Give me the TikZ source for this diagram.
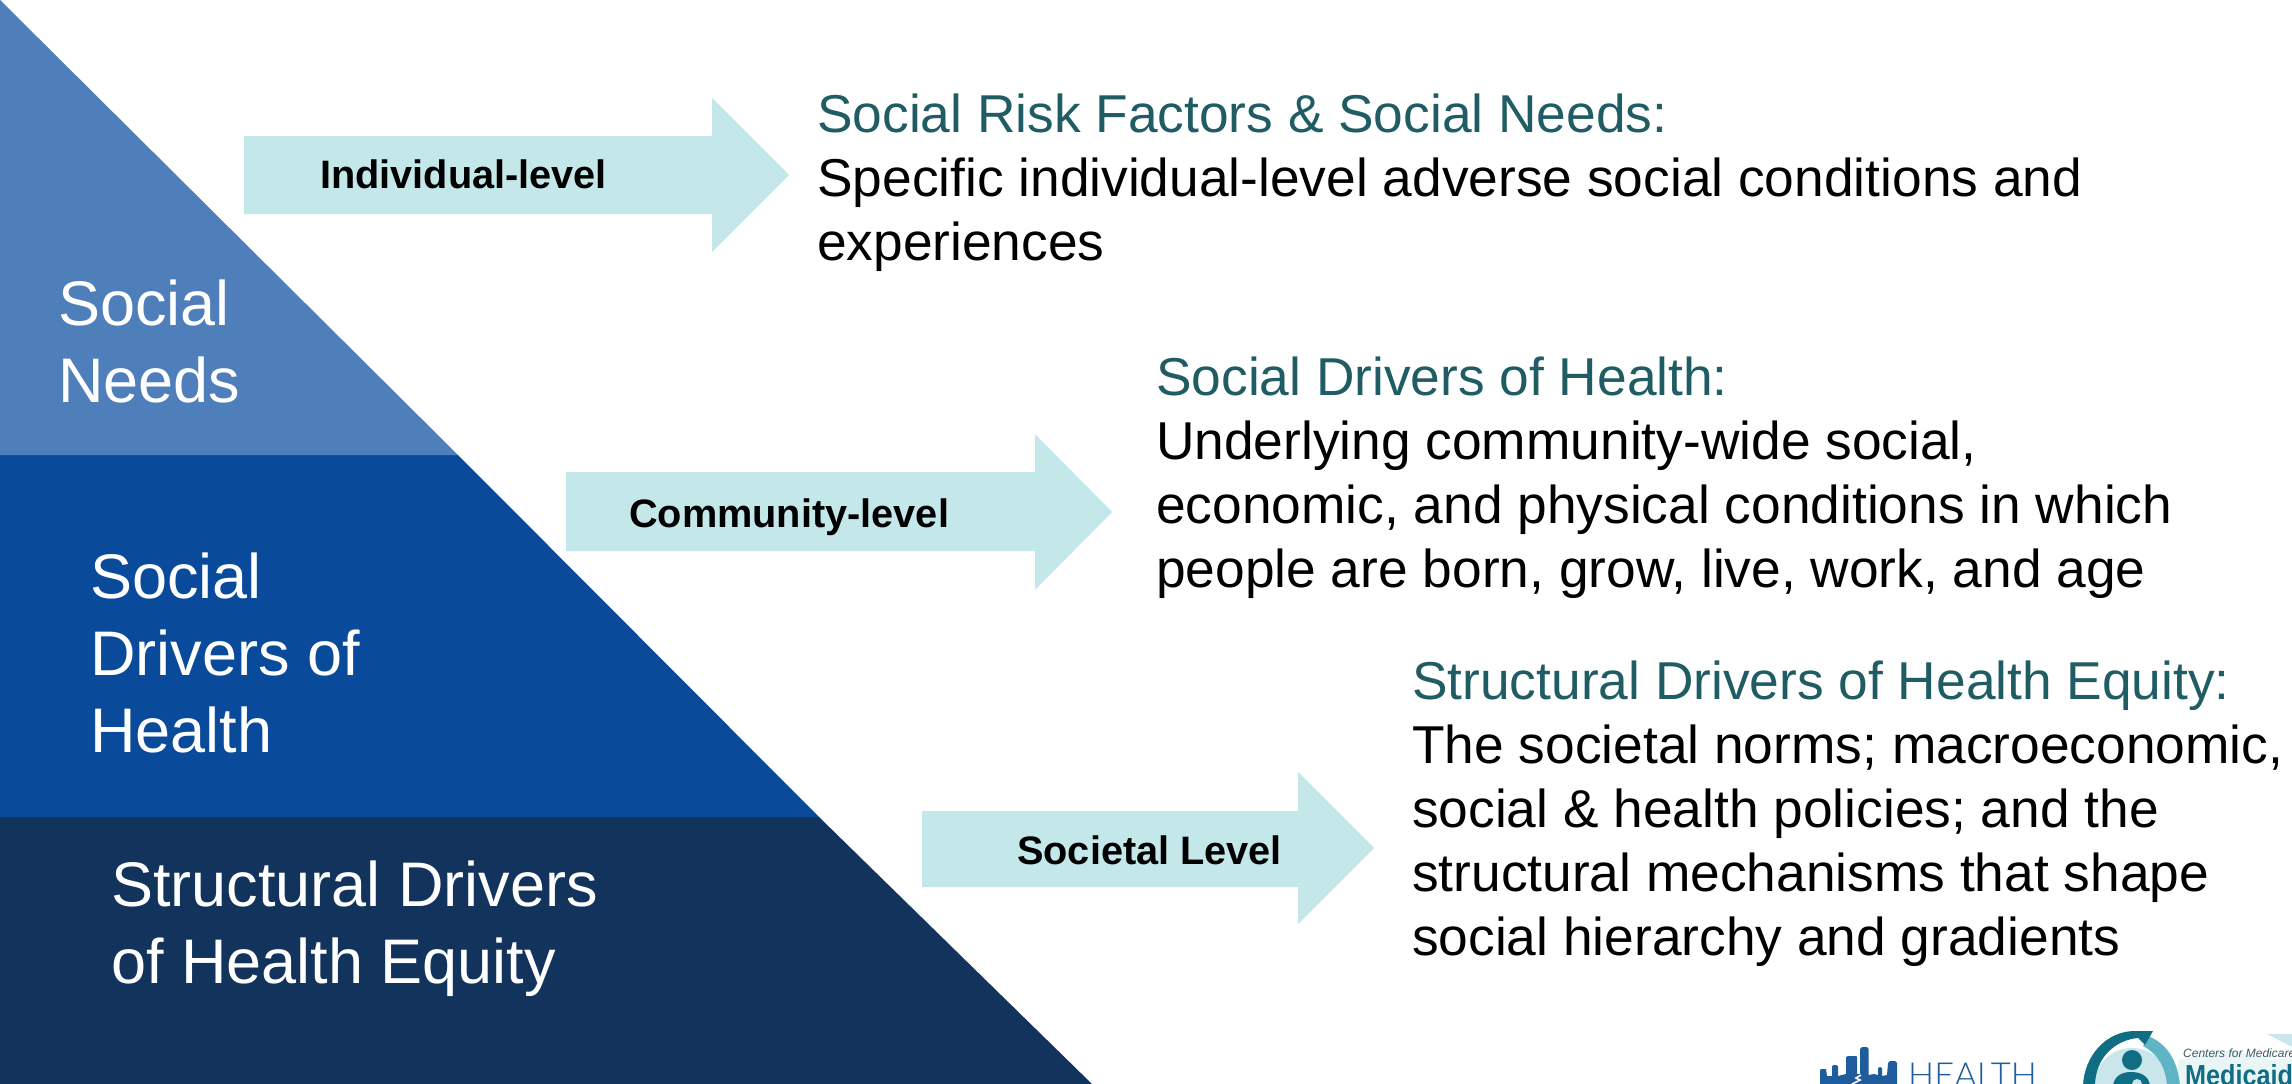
\documentclass[tikz,border=0pt]{standalone}
\usepackage{fontspec}
\setmainfont{Liberation Sans}
\newfontfamily\lato{Lato Light}
\definecolor{bandone}{HTML}{4F7FBB}
\definecolor{bandtwo}{HTML}{0A4A9B}
\definecolor{bandthree}{HTML}{12335B}
\definecolor{arrowfill}{HTML}{C4E7E9}
\definecolor{headcol}{HTML}{1F5C63}
\definecolor{logoblue}{HTML}{1F5C9E}
\definecolor{logoteal}{HTML}{0F6E84}
\definecolor{logolight}{HTML}{5FB5C4}
\definecolor{logopale}{HTML}{C9E6EA}
\definecolor{logofaint}{HTML}{EAF5F6}
\definecolor{logogrey}{HTML}{3A5A66}
\tikzset{
  band/.style={font=\fontsize{63}{77}\selectfont,text=white,align=left,inner sep=0pt,anchor=north west},
  arrowlabel/.style={font=\fontsize{39.7}{43}\selectfont\bfseries,text=black,inner sep=0pt,anchor=base west},
  desc/.style={font=\fontsize{53.3}{64}\selectfont,text=black,align=left,inner sep=0pt,anchor=north west},
}
\newcommand{\hd}[1]{\textcolor{headcol}{#1}}
\begin{document}
\begin{tikzpicture}[x=1pt,y=-1pt]
\useasboundingbox (0,0) rectangle (2292,1084);
\fill[white] (0,0) rectangle (2292,1084);
\fill[bandthree] (0,817) -- (819,817) -- (1092,1084) -- (0,1084) -- cycle;
\fill[bandtwo] (0,455) -- (458,455) -- (819,817) -- (0,817) -- cycle;
\fill[bandone] (0,0) -- (458,455) -- (0,455) -- cycle;
\node[band] (needs) at (58,279.5) {Social\\Needs};
\node[band] (drivers) at (90,552.5) {Social\\Drivers of\\Health};
\node[band] (structural) at (111,860.5) {Structural Drivers\\of Health Equity};
\fill[arrowfill] (244,136) -- (712,136) -- (712,98) -- (789,175) -- (712,252) -- (712,214) -- (244,214) -- cycle;
\fill[arrowfill] (566,472) -- (1035,472) -- (1035,434) -- (1112,512) -- (1035,590) -- (1035,551) -- (566,551) -- cycle;
\fill[arrowfill] (922,811) -- (1298,811) -- (1298,772) -- (1374,848) -- (1298,924) -- (1298,887) -- (922,887) -- cycle;
\node[arrowlabel] (indiv) at (320,188) {Individual-level};
\node[arrowlabel] (comm) at (629,527) {Community-level};
\node[arrowlabel] (soc) at (1017,864) {Societal Level};
\node[desc] (d1) at (817,93.5) {\hd{Social Risk Factors \& Social Needs:}\\Specific individual-level adverse social conditions and\\experiences};
\node[desc] (d2) at (1156,357) {\hd{Social Drivers of Health:}\\Underlying community-wide social,\\economic, and physical conditions in which\\people are born, grow, live, work, and age};
\node[desc] (d3) at (1412,661) {\hd{Structural Drivers of Health Equity:}\\The societal norms; macroeconomic,\\social \& health policies; and the\\structural mechanisms that shape\\social hierarchy and gradients};
\begin{scope}
\clip (0,0) rectangle (2292,1084);
% skyline logo
\fill[logoblue] (1820,1090) -- (1820,1070) -- (1821,1069) -- (1826,1069) -- (1827,1076) -- (1832,1076) -- (1832,1066) -- (1834,1065) -- (1836,1065) -- (1838,1066) -- (1838,1076) -- (1842,1075) -- (1846,1074) -- (1846,1057) -- (1848,1056) -- (1856,1056) -- (1857,1057) -- (1857,1074) -- (1860,1074) -- (1860,1049) -- (1862,1047) -- (1867,1047) -- (1868.5,1049) -- (1868.5,1075) -- (1874,1074) -- (1878,1075) -- (1878,1068) -- (1880,1067) -- (1882,1068) -- (1882,1076) -- (1887,1075) -- (1888,1063) -- (1890,1061) -- (1895,1061) -- (1897,1063) -- (1897,1090) -- cycle;
\draw[white,line width=1.6pt] (1852,1084) -- (1860,1080) -- (1856,1078) -- (1861,1075);
\node[inner sep=0pt,anchor=base west,font=\lato\fontsize{34.5}{35}\selectfont,text=logoblue] (health) at (1908,1087) {HEALTH};
% medicaid logo
\fill[logofaint] (2178,1060) -- (2230,1050) -- (2270,1060) -- (2292,1058) -- (2292,1084) -- (2178,1084) -- cycle;
\fill[logopale] (2267,1034) -- (2292,1034) -- (2292,1047) -- cycle;
\fill[logopale] (2132,1086) circle[radius=38];
\fill[logolight] (2148,1036) .. controls (2168,1044) and (2178,1062) .. (2180,1086) -- (2167,1086) .. controls (2166,1068) and (2158,1054) .. (2143,1046) -- cycle;
\fill[logoteal] (2083,1086) .. controls (2084,1056) and (2106,1031) .. (2135,1031) -- (2153,1031) -- (2145,1045) -- (2138,1038) .. controls (2115,1040) and (2095,1058) .. (2095,1086) -- cycle;
\fill[logoteal] (2132,1060) circle[radius=10];
\fill[logoteal] (2113,1086) .. controls (2114,1076) and (2122,1072) .. (2131,1072) .. controls (2141,1072) and (2149,1076) .. (2150,1086) -- cycle;
\fill[logopale] (2137,1084) circle[radius=5];
\node[inner sep=0pt,anchor=base west,font=\itshape\fontsize{12}{12}\selectfont,text=logogrey] (cms) at (2183,1057) {Centers for Medicare \&};
\node[inner sep=0pt,anchor=base west,xscale=.87,font=\bfseries\fontsize{29}{30}\selectfont,text=logoteal] (medicaid) at (2185,1085.5) {Medicaid};
\end{scope}
\end{tikzpicture}
\end{document}
